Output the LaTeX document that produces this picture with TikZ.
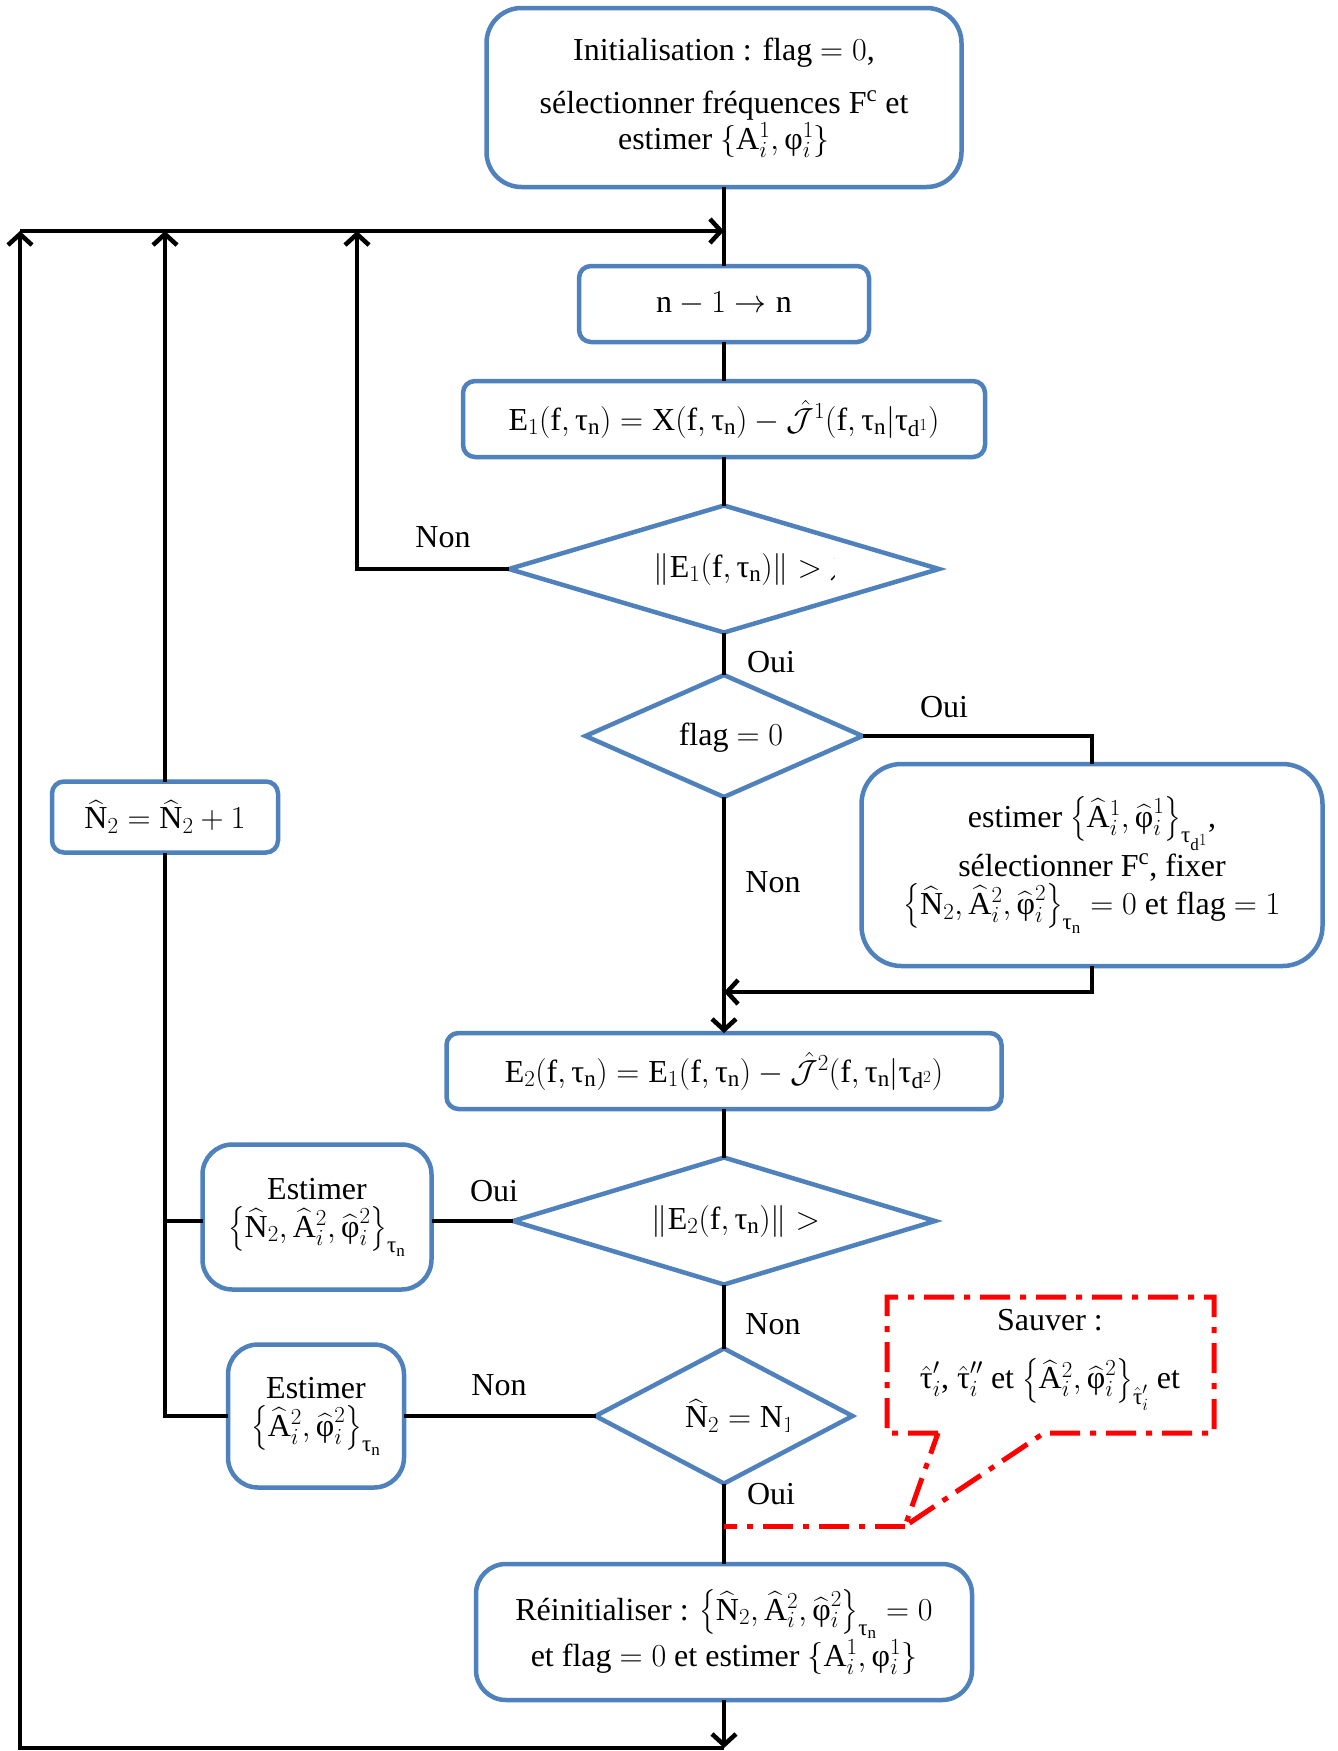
\RequirePackage{fix-cm}
\documentclass[tikz,border=0pt]{standalone}
\usepackage{amsmath}
\usepackage{fontspec}
\setmainfont{Liberation Serif}
\usetikzlibrary{shapes.geometric,arrows.meta}
\DeclareMathSizes{32}{32}{23}{17}
\definecolor{boxblue}{RGB}{79,129,189}
\newcommand\myTau{\text{τ}}
\newcommand\myPhi{\text{φ}}
\newcommand\myhN{\widehat{\mathrm{N}}}
\newcommand\myhA{\widehat{\mathrm{A}}}
\newcommand\myhPhi{\widehat{\myPhi}}
\newcommand\mytn{\myTau_{\mathrm{n}}}
\begin{document}
\begin{tikzpicture}[x=1pt,y=-1pt,
  every node/.style={font=\fontsize{32}{38}\selectfont, inner sep=0pt, outer sep=0pt},
  rbox/.style={draw=boxblue, line width=4.5pt, fill=white, align=center, rounded corners=#1},
  rbox/.default=12pt,
  dia/.style={draw=boxblue, line width=4.5pt, fill=white, diamond, inner sep=0pt, outer sep=0pt},
  conn/.style={line width=4.5pt, draw=black},
  arr/.style={conn, -{Straight Barb[length=11pt,width=24pt]}},
  callout/.style={draw=red, line width=5pt, dash pattern=on 30pt off 10pt on 6pt off 10pt}
]
\useasboundingbox[fill=white] (0,0) rectangle (1338,1751);

% coordinates of the return loop
\coordinate (J) at (724,231);
\coordinate (top0) at (20,231);
\coordinate (top1) at (165,231);
\coordinate (top2) at (357,231);
\coordinate (bot) at (724,1748);
\coordinate (m1) at (724,992);
\coordinate (j2) at (165,1221);
\coordinate (ctip) at (905,1526);
\coordinate (cmain) at (724,1526);

% nodes
\node[rbox=35pt, minimum width=475pt, minimum height=179pt] (init) at (724,97.5)
  {Initialisation : flag $=0$,\\[15pt] sélectionner fréquences $\mathrm{F}^{\mathrm{c}}$ et\\[-2pt] estimer $\{\mathrm{A}_i^1, \myPhi_i^1\}$};
\node[rbox, minimum width=290pt, minimum height=76pt] (inc) at (724,304) {$\mathrm{n}-1\rightarrow\mathrm{n}$};
\node[rbox, minimum width=522pt, minimum height=76pt] (e1) at (724,419)
  {$\mathrm{E}_1(\mathrm{f},\mytn) = \mathrm{X}(\mathrm{f},\mytn) - \hat{\mathcal{J}}^1(\mathrm{f},\mytn|\myTau_{\mathrm{d}^1})$};
\node[dia, minimum width=430pt, minimum height=127pt] (d1) at (724,569) {};
\node[dia, minimum width=277pt, minimum height=122pt] (d2) at (724,736) {};
\node (d2t) at (731,738) {flag $=0$};
\node[rbox=40pt, minimum width=461pt, minimum height=202pt] (setb) at (1092,865)
  {estimer $\left\{\myhA_i^1, \myhPhi_i^1\right\}_{\myTau_{\mathrm{d}^1}}$,\\[2pt]
   sélectionner $\mathrm{F}^{\mathrm{c}}$, fixer\\
   $\left\{\myhN_2, \myhA_i^2, \myhPhi_i^2\right\}_{\mytn} = 0$ et flag $=1$};
\node[rbox, minimum width=226pt, minimum height=71pt] (n2b) at (165,817) {$\myhN_2 = \myhN_2 + 1$};
\node[rbox, minimum width=555pt, minimum height=76pt] (e2) at (724,1071)
  {$\mathrm{E}_2(\mathrm{f},\mytn) = \mathrm{E}_1(\mathrm{f},\mytn) - \hat{\mathcal{J}}^2(\mathrm{f},\mytn|\myTau_{\mathrm{d}^2})$};
\node[dia, minimum width=422pt, minimum height=127pt] (d3) at (724,1221) {};
\node[rbox=30pt, minimum width=229pt, minimum height=145pt] (est1) at (317,1217)
  {Estimer\\ $\left\{\myhN_2, \myhA_i^2, \myhPhi_i^2\right\}_{\mytn}$};
\node[dia, minimum width=257pt, minimum height=135pt] (d4) at (724,1416) {};
\node[rbox=30pt, minimum width=176pt, minimum height=143pt] (est2) at (316,1416)
  {Estimer\\ $\left\{\myhA_i^2, \myhPhi_i^2\right\}_{\mytn}$};
\node[rbox=30pt, minimum width=496pt, minimum height=136pt] (reinit) at (724,1632)
  {Réinitialiser : $\left\{\myhN_2, \myhA_i^2, \myhPhi_i^2\right\}_{\mytn} = 0$\\
   et flag $=0$ et estimer $\{\mathrm{A}_i^1, \myPhi_i^1\}$};

% clipped diamond texts
\node[anchor=east] (d1t) at (822,569) {$\|\mathrm{E}_1(\mathrm{f},\mytn)\| >$};
\begin{scope}
  \clip (800,500) rectangle (834,640);
  \node[anchor=west] (d1x) at (829,569) {$\lambda$};
\end{scope}
\node[anchor=east] (d3t) at (820,1221) {$\|\mathrm{E}_2(\mathrm{f},\mytn)\| >$};
\begin{scope}
  \clip (650,1350) rectangle (788,1480);
  \node[anchor=west] (d4t) at (685,1416) {$\myhN_2 = \mathrm{N}_1$};
\end{scope}

% connectors
\draw[conn] (init.south) -- (inc.north);
\draw[arr] (top0) -- (J);
\draw[conn] (inc.south) -- (e1.north);
\draw[conn] (e1.south) -- (d1.north);
\draw[arr] (d1.west) -| (top2);
\draw[conn] (d1.south) -- (d2.north);
\draw[conn] (d2.east) -| (setb.north);
\draw[arr] (setb.south) |- (m1);
\draw[arr] (d2.south) -- (e2.north);
\draw[conn] (e2.south) -- (d3.north);
\draw[conn] (d3.west) -- (d3.west -| est1.east);
\draw[conn] (est1.west |- d3.west) -| (n2b.south);
\draw[arr] (n2b.north) -- (top1);
\draw[conn] (d3.south) -- (d4.north);
\draw[conn] (d4.west) -- (est2.east);
\draw[conn] (est2.west) -| (j2);
\draw[conn] (d4.south) -- (reinit.north);
\draw[arr] (reinit.south) -- (bot);
\draw[arr] (bot) -| (top0);

% labels
\node (l1) at (443,537) {Non};
\node (l2) at (771,662) {Oui};
\node (l3) at (944,707) {Oui};
\node (l4) at (773,882) {Non};
\node (l5) at (494,1191) {Oui};
\node (l6) at (773,1324) {Non};
\node (l7) at (499,1385) {Non};
\node (l8) at (771,1494) {Oui};

% callout
\draw[callout] (938,1433) -- (887,1433) -- (887,1297) -- (1214,1297) -- (1214,1433) -- (1044,1433) -- (ctip) -- cycle;
\draw[callout] (ctip) -- (cmain);
\node[align=center] (sav) at (1050,1360) {Sauver :\\[20pt] $\hat{\myTau}'_i$, $\hat{\myTau}''_i$ et $\left\{\myhA_i^2, \myhPhi_i^2\right\}_{\hat{\myTau}'_i}$ et};
\end{tikzpicture}
\end{document}
